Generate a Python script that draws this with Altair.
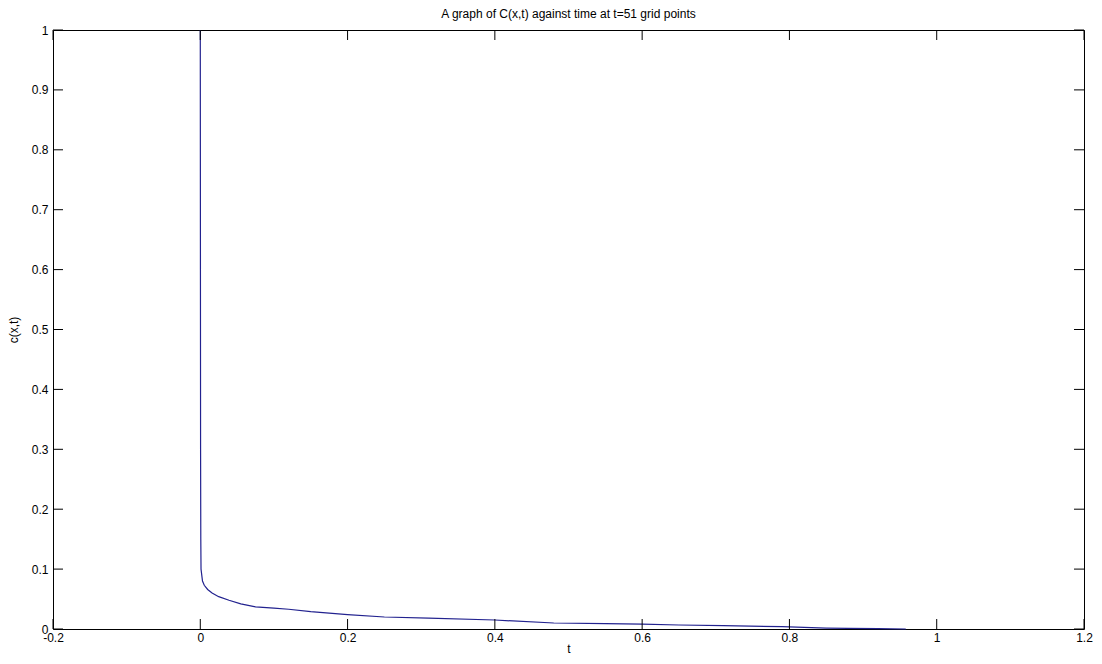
import altair as alt
import pandas as pd

# Curve values
t_vals = [0.0, 0.0002, 0.0004, 0.0007, 0.001, 0.003, 0.0054, 0.01, 0.016, 0.025,
          0.039, 0.055, 0.075, 0.1, 0.12, 0.15, 0.2, 0.25, 0.31, 0.4, 0.48, 0.55,
          0.6, 0.65, 0.71, 0.79, 0.85, 0.88, 0.92, 0.958]
c_vals = [1.0, 0.6, 0.3, 0.15, 0.1, 0.08, 0.073, 0.066, 0.060, 0.054,
          0.048, 0.042, 0.037, 0.035, 0.033, 0.029, 0.024, 0.020, 0.018, 0.015, 0.010, 0.009,
          0.008, 0.0067, 0.0055, 0.004, 0.0015, 0.001, 0.0006, 0.0]

x_ticks = [-0.2, 0, 0.2, 0.4, 0.6, 0.8, 1, 1.2]
y_ticks = [0, 0.1, 0.2, 0.3, 0.4, 0.5, 0.6, 0.7, 0.8, 0.9, 1]

W, H = 1031, 599
TL = 10
FONT = "Liberation Sans"

curve = pd.DataFrame({"t": t_vals, "c": c_vals})
xt = pd.DataFrame({"v": x_ticks})
yt = pd.DataFrame({"v": y_ticks})

xscale = alt.Scale(domain=[-0.2, 1.2], nice=False, zero=False)
yscale = alt.Scale(domain=[0, 1], nice=False, zero=False)

line = alt.Chart(curve).mark_line(color="#22228f", strokeWidth=1.2).encode(
    x=alt.X("t:Q", scale=xscale,
            axis=alt.Axis(values=x_ticks, ticks=False, domain=False, grid=False,
                          labelExpr="toString(datum.value)", labelFlush=False,
                          labelOverlap=False, labelPadding=3, title="t",
                          titlePadding=0, labelFont=FONT, labelFontSize=12,
                          labelColor="#000000", titleFont=FONT, titleFontSize=12,
                          titleFontWeight="normal", titleColor="#000000")),
    y=alt.Y("c:Q", scale=yscale,
            axis=alt.Axis(values=y_ticks, ticks=False, domain=False, grid=False,
                          labelExpr="toString(datum.value)", labelFlush=False,
                          labelOverlap=False, labelPadding=5, title="c(x,t)",
                          titlePadding=11, labelFont=FONT, labelFontSize=12,
                          labelColor="#000000", titleFont=FONT, titleFontSize=12,
                          titleFontWeight="normal", titleColor="#000000")),
    order="t:Q",
)

tick_color = "#000000"
bottom = alt.Chart(xt).mark_rule(color=tick_color, strokeWidth=1).encode(
    x=alt.X("v:Q", scale=xscale), y=alt.value(H), y2=alt.value(H - TL))
top = alt.Chart(xt).mark_rule(color=tick_color, strokeWidth=1).encode(
    x=alt.X("v:Q", scale=xscale), y=alt.value(0), y2=alt.value(TL))
left = alt.Chart(yt).mark_rule(color=tick_color, strokeWidth=1).encode(
    y=alt.Y("v:Q", scale=yscale), x=alt.value(0), x2=alt.value(TL))
right = alt.Chart(yt).mark_rule(color=tick_color, strokeWidth=1).encode(
    y=alt.Y("v:Q", scale=yscale), x=alt.value(W), x2=alt.value(W - TL))

chart = alt.layer(line, bottom, top, left, right).properties(
    width=W, height=H,
    title=alt.TitleParams("A graph of C(x,t) against time at t=51 grid points",
                          font=FONT, fontSize=12, fontWeight="normal", color="#000000",
                          anchor="middle", offset=3),
    autosize=alt.AutoSizeParams(type="none"),
    padding={"left": 45, "top": 22, "right": 10, "bottom": 27},
    background="#ffffff",
).configure_view(stroke="#000000", strokeWidth=1)

chart.save("out.html", embed_options={"renderer": "svg", "actions": False})
